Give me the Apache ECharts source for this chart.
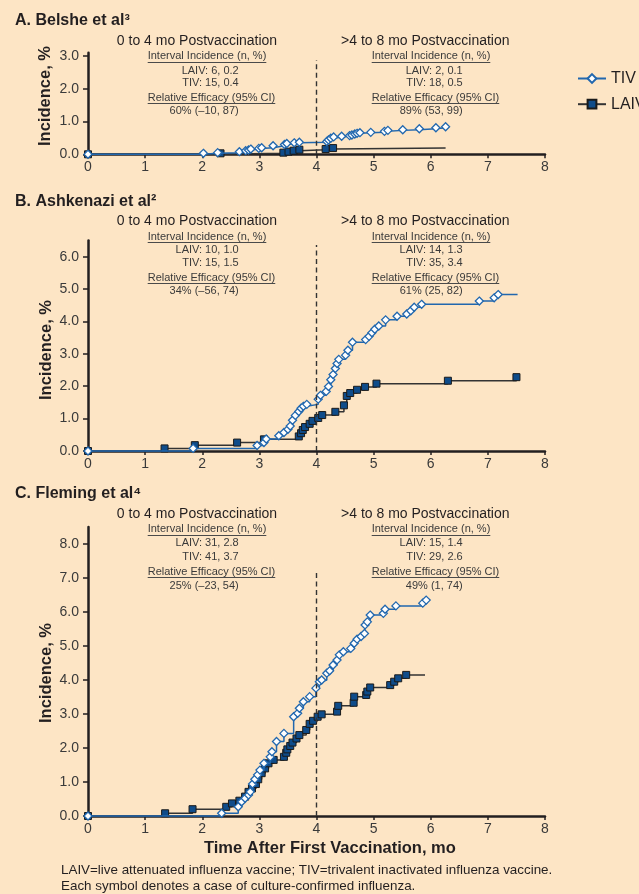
<!DOCTYPE html>
<html>
<head>
<meta charset="utf-8">
<script src="https://cdn.jsdelivr.net/npm/echarts@6/dist/echarts.min.js"></script>
<style>
html,body{margin:0;padding:0;background:#fde5c5;}
#chart{width:639px;height:894px;}
</style>
</head>
<body>
<div id="chart"></div>
<script>
// ---------- DATA ----------
const xTickValues = [0, 1, 2, 3, 4, 5, 6, 7, 8];
const belsheYTicks = [0, 1, 2, 3];
const ashkenaziYTicks = [0, 1, 2, 3, 4, 5, 6];
const flemingYTicks = [0, 1, 2, 3, 4, 5, 6, 7, 8];
const seriesNames = ['TIV', 'LAIV'];
const vaccinationCutoff = 4;

const belsheTIV = [[0,0],[2.02,0.03],[2.27,0.05],[2.65,0.08],[2.76,0.11],[2.81,0.13],[2.85,0.16],[2.99,0.18],[3.04,0.20],[3.24,0.26],[3.44,0.30],[3.48,0.33],[3.61,0.35],[3.70,0.37],[4.18,0.39],[4.21,0.44],[4.25,0.49],[4.30,0.53],[4.44,0.55],[4.58,0.57],[4.62,0.59],[4.67,0.62],[4.71,0.64],[4.76,0.66],[4.95,0.67],[5.19,0.70],[5.25,0.73],[5.51,0.75],[5.80,0.78],[6.09,0.81],[6.26,0.84]];
const belsheLAIV = [[0,0],[2.32,0.03],[3.42,0.05],[3.51,0.08],[3.60,0.11],[3.70,0.14],[4.16,0.16],[4.29,0.19]];
const belsheLAIVTailX = 6.26;

const ashkenaziTIV = [[0,0],[1.84,0.08],[2.96,0.17],[3.08,0.26],[3.12,0.37],[3.34,0.47],[3.43,0.57],[3.50,0.67],[3.54,0.77],[3.58,0.95],[3.63,1.10],[3.69,1.22],[3.73,1.32],[3.77,1.38],[3.83,1.44],[4.03,1.60],[4.07,1.72],[4.17,1.84],[4.21,1.99],[4.25,2.20],[4.29,2.36],[4.33,2.55],[4.36,2.70],[4.39,2.83],[4.51,2.96],[4.55,3.11],[4.63,3.36],[4.86,3.44],[4.92,3.54],[4.97,3.65],[5.02,3.76],[5.09,3.86],[5.21,4.05],[5.41,4.16],[5.58,4.23],[5.65,4.33],[5.71,4.44],[5.84,4.53],[6.85,4.63],[7.11,4.73],[7.18,4.83]];
const ashkenaziTIVTailX = 7.52;
const ashkenaziLAIV = [[0,0],[1.34,0.08],[1.87,0.18],[2.61,0.26],[3.08,0.36],[3.69,0.45],[3.73,0.55],[3.76,0.65],[3.80,0.74],[3.88,0.84],[3.93,0.93],[4.03,1.02],[4.10,1.11],[4.33,1.21],[4.48,1.41],[4.53,1.70],[4.59,1.79],[4.71,1.89],[4.85,1.98],[5.05,2.08],[6.30,2.17],[7.50,2.28]];

const flemingTIV = [[0,0],[2.34,0.08],[2.63,0.27],[2.69,0.42],[2.75,0.52],[2.81,0.62],[2.84,0.71],[2.88,0.94],[2.92,1.08],[2.97,1.21],[3.01,1.35],[3.08,1.55],[3.19,1.74],[3.22,1.89],[3.30,2.19],[3.43,2.43],[3.60,2.92],[3.67,3.02],[3.70,3.17],[3.77,3.36],[3.88,3.51],[3.99,3.76],[4.05,3.95],[4.09,4.00],[4.18,4.20],[4.23,4.27],[4.29,4.44],[4.36,4.59],[4.40,4.74],[4.47,4.83],[4.60,4.93],[4.66,5.08],[4.71,5.20],[4.78,5.28],[4.84,5.37],[4.85,5.62],[4.89,5.71],[4.94,5.91],[5.17,5.96],[5.20,6.08],[5.39,6.18],[5.86,6.26],[5.92,6.35]];
const flemingLAIV = [[0,0],[1.35,0.08],[1.83,0.20],[2.42,0.27],[2.52,0.37],[2.65,0.45],[2.75,0.57],[2.81,0.71],[2.87,0.81],[2.94,0.94],[2.98,1.08],[3.04,1.26],[3.10,1.40],[3.16,1.55],[3.25,1.65],[3.43,1.74],[3.47,1.86],[3.49,1.96],[3.54,2.06],[3.58,2.16],[3.65,2.28],[3.70,2.38],[3.82,2.53],[3.88,2.71],[3.94,2.80],[4.02,2.92],[4.09,2.99],[4.36,3.07],[4.38,3.24],[4.65,3.33],[4.66,3.51],[4.87,3.56],[4.89,3.66],[4.94,3.78],[5.29,3.85],[5.36,3.95],[5.43,4.05],[5.57,4.15]];
const flemingLAIVTailX = 5.90;

const panelTitles = ['A. Belshe et al³', 'B. Ashkenazi et al²', 'C. Fleming et al⁴'];
const earlyHeading = ['0 to 4 mo Postvaccination', '0 to 4 mo Postvaccination', '0 to 4 mo Postvaccination'];
const lateHeading = ['>4 to 8 mo Postvaccination', '>4 to 8 mo Postvaccination', '>4 to 8 mo Postvaccination'];
const incidenceHeader = 'Interval Incidence (n, %)';
const efficacyHeader = 'Relative Efficacy (95% CI)';
const earlyLAIV = ['LAIV: 6, 0.2', 'LAIV: 10, 1.0', 'LAIV: 31, 2.8'];
const earlyTIV = ['TIV: 15, 0.4', 'TIV: 15, 1.5', 'TIV: 41, 3.7'];
const earlyEfficacy = ['60% (–10, 87)', '34% (–56, 74)', '25% (–23, 54)'];
const lateLAIV = ['LAIV: 2, 0.1', 'LAIV: 14, 1.3', 'LAIV: 15, 1.4'];
const lateTIV = ['TIV: 18, 0.5', 'TIV: 35, 3.4', 'TIV: 29, 2.6'];
const lateEfficacy = ['89% (53, 99)', '61% (25, 82)', '49% (1, 74)'];
const yAxisTitle = 'Incidence, %';
const xAxisTitle = 'Time After First Vaccination, mo';
const footnotes = ['LAIV=live attenuated influenza vaccine; TIV=trivalent inactivated influenza vaccine.',
                   'Each symbol denotes a case of culture-confirmed influenza.'];

// ---------- LAYOUT / STYLE ----------
const FONT = '"Liberation Sans", Arial, Helvetica, sans-serif';
const TEXT = '#231f20';
const GRAY = '#3a3a3a';
const BLUE = '#2167ae';
const NAVY = '#0f4c8a';
const grids = [
  {left: 88, top: 52.7, width: 457, height: 101.6, yMax: 3.1, dashTop: 2.87, ticks: belsheYTicks},
  {left: 88, top: 240.5, width: 457, height: 210.5, yMax: 6.5, dashTop: 6.36, ticks: ashkenaziYTicks},
  {left: 88, top: 527, width: 457, height: 289, yMax: 8.5, dashTop: 7.18, ticks: flemingYTicks}
];
const titleY = [21, 201.7, 493.3];
const rowY = [
  [40.7, 56, 70.7, 83, 97.7, 111],
  [220.7, 236.7, 250, 262.7, 277.7, 291],
  [514.3, 529.3, 543.3, 556.7, 571.7, 585.7]
];
const yTitlePos = [[45.5, 96], [46.5, 350], [46.5, 673]];

function withTail(arr, tailX) {
  const out = arr.map(p => ({value: p}));
  if (tailX != null) out.push({value: [tailX, arr[arr.length - 1][1]], symbol: 'none'});
  return out;
}

const tivData = [withTail(belsheTIV, null), withTail(ashkenaziTIV, ashkenaziTIVTailX), withTail(flemingTIV, null)];
const laivData = [withTail(belsheLAIV, belsheLAIVTailX), withTail(ashkenaziLAIV, null), withTail(flemingLAIV, flemingLAIVTailX)];

const mctx = document.createElement('canvas').getContext('2d');
function tw(t, size, weight) { mctx.font = (weight || 'normal') + ' ' + size + 'px ' + FONT; return mctx.measureText(t).width; }

function txt(x, y, text, size, opts) {
  opts = opts || {};
  return {
    type: 'text', x: x, y: y, rotation: opts.rotation || 0, silent: true,
    style: {
      text: text, fontSize: size, fontFamily: FONT, fontWeight: opts.weight || 'normal',
      fill: opts.color || GRAY,
      align: opts.align || 'center', textAlign: opts.align || 'center',
      verticalAlign: 'middle', textVerticalAlign: 'middle'
    }
  };
}
function uline(x, y, w) {
  return {type: 'line', silent: true, shape: {x1: x, y1: y, x2: x + w, y2: y}, style: {stroke: '#4a4a4a', lineWidth: 1}};
}

const graphics = [];
for (let i = 0; i < 3; i++) {
  const r = rowY[i];
  graphics.push(txt(15, titleY[i], panelTitles[i], 16, {weight: 'bold', align: 'left', color: TEXT}));
  graphics.push(txt(197, r[0], earlyHeading[i], 14, {color: TEXT}));
  graphics.push(txt(425.3, r[0], lateHeading[i], 14, {color: TEXT}));
  [[147.7, r[1], incidenceHeader], [147.7, r[4], efficacyHeader], [371.7, r[1], incidenceHeader], [371.7, r[4], efficacyHeader]].forEach(h => {
    graphics.push(txt(h[0], h[1], h[2], 11, {align: 'left'}));
    graphics.push(uline(h[0], Math.round(h[1] + 5.5) + 0.5, tw(h[2], 11)));
  });
  graphics.push(txt(238.7, r[2], earlyLAIV[i], 11, {align: 'right'}));
  graphics.push(txt(238.7, r[3], earlyTIV[i], 11, {align: 'right'}));
  graphics.push(txt(238.7, r[5], earlyEfficacy[i], 11, {align: 'right'}));
  graphics.push(txt(462.7, r[2], lateLAIV[i], 11, {align: 'right'}));
  graphics.push(txt(462.7, r[3], lateTIV[i], 11, {align: 'right'}));
  graphics.push(txt(462.7, r[5], lateEfficacy[i], 11, {align: 'right'}));
  graphics.push(txt(yTitlePos[i][0], yTitlePos[i][1], yAxisTitle, 16.5, {weight: 'bold', rotation: Math.PI / 2, color: TEXT}));
}
graphics.push(txt(204, 848, xAxisTitle, 16.5, {weight: 'bold', align: 'left', color: TEXT}));
graphics.push(txt(61, 870.7, footnotes[0], 13.4, {align: 'left', color: TEXT}));
graphics.push(txt(61, 886, footnotes[1], 13.4, {align: 'left', color: TEXT}));

const axisLine = {lineStyle: {color: TEXT, width: 2.5}};
const option = {
  animation: false,
  backgroundColor: '#fde5c5',
  legend: {
    data: seriesNames, orient: 'vertical', left: 577, top: 70.5, padding: 0,
    itemWidth: 28, itemHeight: 11, itemGap: 9.7, selectedMode: false,
    textStyle: {fontSize: 16, color: TEXT, fontFamily: FONT}
  },
  grid: grids.map(g => ({left: g.left, top: g.top, width: g.width, height: g.height, containLabel: false})),
  xAxis: grids.map((g, i) => ({
    type: 'value', gridIndex: i, min: 0, max: 8, interval: 1,
    axisLine: axisLine, splitLine: {show: false},
    axisTick: {show: true, length: 4, lineStyle: {color: TEXT, width: 1.5}, customValues: xTickValues},
    axisLabel: {fontSize: 14, color: GRAY, fontFamily: FONT, margin: 6, customValues: xTickValues, formatter: v => String(v)}
  })),
  yAxis: grids.map((g, i) => ({
    type: 'value', gridIndex: i, min: 0, max: g.yMax, interval: 1,
    axisLine: Object.assign({show: true}, axisLine), splitLine: {show: false},
    axisTick: {show: true, length: 5, lineStyle: {color: TEXT, width: 1.5}, customValues: g.ticks},
    axisLabel: {fontSize: 14, color: GRAY, fontFamily: FONT, margin: 9, customValues: g.ticks,
      formatter: v => (Math.abs(v - Math.round(v)) < 1e-6 ? v.toFixed(1) : '')}
  })),
  graphic: {elements: graphics},
  series: []
};

for (let i = 0; i < 3; i++) {
  option.series.push({
    name: 'LAIV', type: 'line', step: 'end', xAxisIndex: i, yAxisIndex: i,
    data: laivData[i], symbol: 'rect', symbolSize: 7, showAllSymbol: true, clip: false,
    lineStyle: {color: '#333333', width: 1.5},
    itemStyle: {color: NAVY, borderColor: '#1a1a1a', borderWidth: 1},
    z: 3,
    markLine: {
      silent: true, symbol: ['none', 'none'], label: {show: false}, animation: false,
      lineStyle: {type: [5, 3.5], color: '#333333', width: 1.4},
      data: [[{coord: [vaccinationCutoff, 0]}, {coord: [vaccinationCutoff, grids[i].dashTop]}]]
    }
  });
  option.series.push({
    name: 'TIV', type: 'line', step: 'end', xAxisIndex: i, yAxisIndex: i,
    data: tivData[i], symbol: 'diamond', symbolSize: 8, showAllSymbol: true, clip: false,
    lineStyle: {color: BLUE, width: 1.5},
    itemStyle: {color: '#ffffff', borderColor: BLUE, borderWidth: 1.3},
    z: 4
  });
}

const chart = echarts.init(document.getElementById('chart'), null, {renderer: 'canvas'});
chart.setOption(option);
</script>
</body>
</html>
